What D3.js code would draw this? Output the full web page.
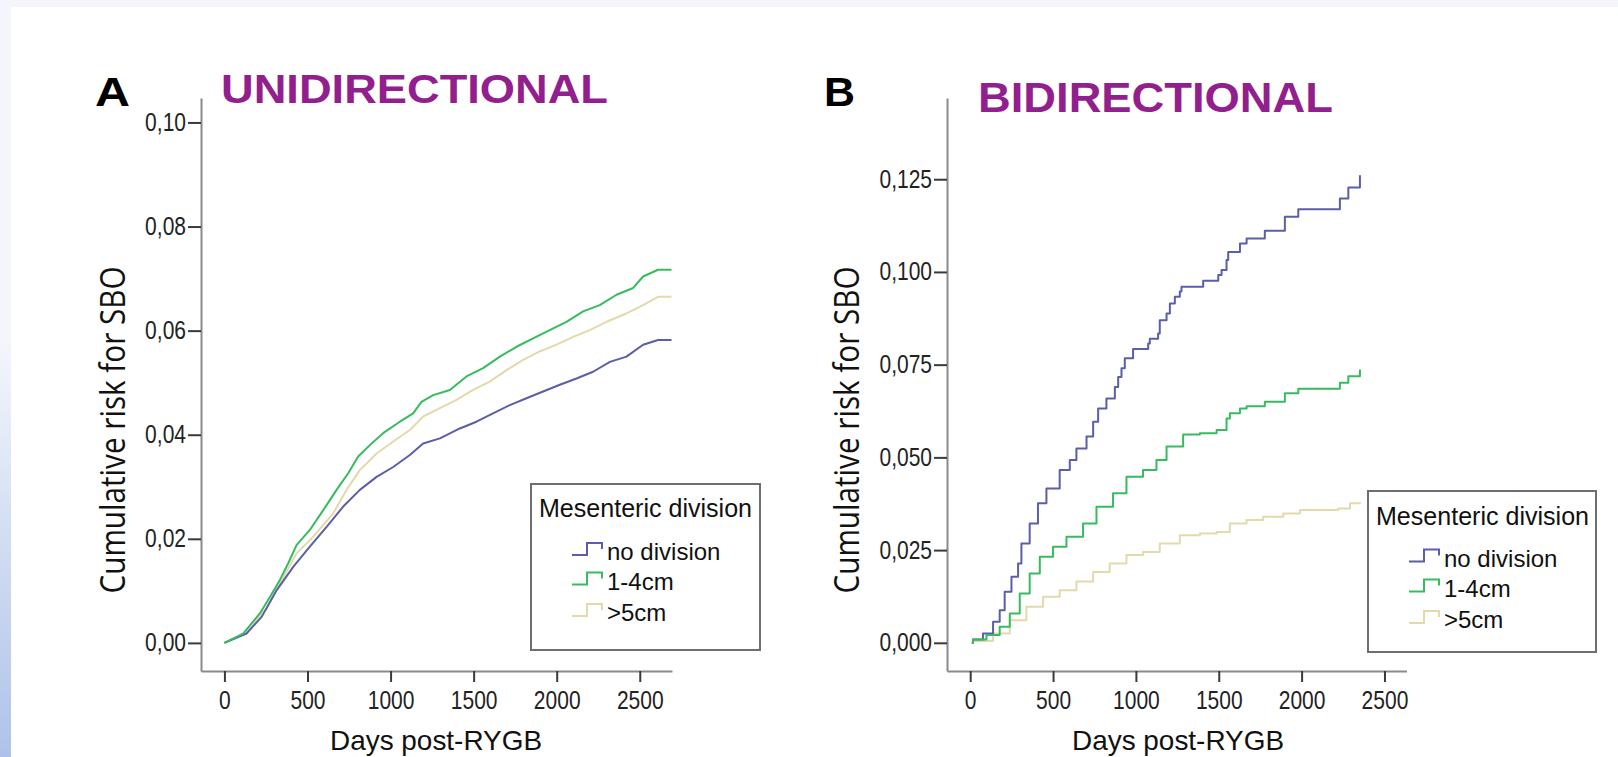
<!DOCTYPE html>
<html>
<head>
<meta charset="utf-8">
<script src="https://cdnjs.cloudflare.com/ajax/libs/d3/7.8.5/d3.min.js"></script>
<style>
  html, body { margin: 0; padding: 0; background: #f4f6fb; }
  svg { display: block; }
  text { font-family: "Liberation Sans", Arial, sans-serif; }
</style>
</head>
<body>
<script>
var W = 1618, H = 757;

// legend groups
var groups = ["no division", "1-4cm", ">5cm"];
var colors = ["#5b5ea8", "#36bc5e", "#e2daab"];

// tick values
var xTicks = [0, 500, 1000, 1500, 2000, 2500];
var yTicksA = [0, 0.02, 0.04, 0.06, 0.08, 0.10];
var yTicksB = [0, 0.025, 0.05, 0.075, 0.10, 0.125];

// A - unidirectional, [days, cumulative risk]
var uniNone = [[0,0],[133,0.0018],[224,0.005],[314,0.0101],[414,0.0146],[514,0.0185],[615,0.0223],
  [715,0.0262],[815,0.0294],[916,0.0319],[1016,0.0338],[1116,0.0361],[1196,0.0383],[1297,0.0393],
  [1417,0.0412],[1517,0.0425],[1617,0.0441],[1718,0.0457],[1818,0.047],[1918,0.0483],[2019,0.0496],
  [2119,0.0508],[2219,0.0521],[2320,0.054],[2420,0.055],[2520,0.0573],[2610,0.0582],[2691,0.0582]];
var uni1to4 = [[0,0],[113,0.0018],[214,0.0057],[274,0.0088],[334,0.0121],[384,0.0153],[434,0.0188],
  [514,0.0217],[595,0.0255],[675,0.0294],[745,0.0326],[805,0.0358],[875,0.038],[955,0.0403],
  [1056,0.0425],[1136,0.0441],[1186,0.0463],[1256,0.0476],[1357,0.0486],[1457,0.0512],[1557,0.0528],
  [1658,0.055],[1758,0.0569],[1858,0.0585],[1958,0.0601],[2059,0.0617],[2159,0.0637],[2259,0.0649],
  [2360,0.0669],[2460,0.0682],[2520,0.0704],[2610,0.0717],[2691,0.0717]];
var uniOver5 = [[0,0],[113,0.0018],[254,0.0066],[334,0.0114],[434,0.0172],[534,0.0204],[655,0.0249],
  [735,0.0294],[815,0.0332],[916,0.0364],[1016,0.0387],[1116,0.0409],[1196,0.0435],[1297,0.0451],
  [1397,0.0467],[1497,0.0486],[1597,0.0502],[1698,0.0524],[1798,0.0544],[1898,0.056],[1999,0.0573],
  [2099,0.0588],[2199,0.0601],[2300,0.0617],[2420,0.0633],[2520,0.0649],[2610,0.0665],[2691,0.0665]];

// B - bidirectional, [days, cumulative risk]
var biNone = [[10,0],[17,0.0009],[77,0.0025],[138,0.0057],[178,0.0088],[208,0.0138],[249,0.0178],
  [289,0.0214],[309,0.0268],[359,0.0322],[409,0.0376],[460,0.0416],[540,0.0466],[601,0.0493],
  [641,0.0524],[702,0.0556],[742,0.0596],[772,0.0632],[822,0.0659],[873,0.069],[893,0.0717],
  [913,0.074],[933,0.0767],[983,0.0792],[1074,0.0807],[1084,0.082],[1134,0.0834],[1144,0.087],
  [1185,0.0888],[1205,0.0915],[1235,0.0933],[1265,0.0947],[1275,0.096],[1406,0.0976],[1497,0.0992],
  [1517,0.1005],[1547,0.1032],[1557,0.1054],[1628,0.1077],[1668,0.109],[1778,0.1111],[1899,0.1149],
  [1980,0.1169],[2231,0.1198],[2282,0.1228],[2352,0.1261]];
var bi1to4 = [[10,0],[17,0.0009],[98,0.0021],[178,0.0043],[239,0.0079],[299,0.0133],[359,0.0187],
  [420,0.0232],[500,0.0259],[581,0.0286],[681,0.0322],[762,0.0367],[862,0.0403],[943,0.0448],
  [1043,0.0466],[1124,0.0493],[1185,0.0529],[1285,0.0562],[1386,0.0565],[1487,0.0574],[1547,0.0605],
  [1567,0.0619],[1628,0.0632],[1668,0.0638],[1778,0.065],[1899,0.0673],[1980,0.0685],[2231,0.0701],
  [2282,0.0719],[2352,0.0737]];
var biOver5 = [[10,0],[17,0.0005],[138,0.0025],[239,0.0061],[339,0.0097],[440,0.0124],[540,0.0142],
  [641,0.0165],[742,0.0191],[842,0.0214],[943,0.0237],[1043,0.0245],[1144,0.0268],[1265,0.029],
  [1386,0.0295],[1487,0.0299],[1567,0.0322],[1668,0.0331],[1768,0.034],[1889,0.0349],[1990,0.0358],
  [2221,0.0362],[2292,0.0376],[2352,0.038]];

var commaLocale = d3.formatLocale({decimal: ",", thousands: ".", grouping: [3], currency: ["", ""]});

var svg = d3.select("body").append("svg")
    .attr("width", W)
    .attr("height", H);

// page background: pale frame, blue fade on the left edge, white sheet
var grad = svg.append("defs").append("linearGradient")
    .attr("id", "edge").attr("x1", 0).attr("y1", 0).attr("x2", 0).attr("y2", 1);
grad.append("stop").attr("offset", "45%").attr("stop-color", "#f4f6fb");
grad.append("stop").attr("offset", "100%").attr("stop-color", "#aec2e9");
svg.append("rect").attr("width", W).attr("height", H).attr("fill", "#f4f6fb");
svg.append("rect").attr("width", 11).attr("height", H).attr("fill", "url(#edge)");
svg.append("rect").attr("x", 11).attr("y", 7).attr("width", W - 11).attr("height", H - 7).attr("fill", "#fff");

var panels = [
  { letter: "A", title: "UNIDIRECTIONAL", series: [uniOver5, uniNone, uni1to4], order: [2, 0, 1],
    left: 201, right: 672, top: 98, bottom: 671, xDomain: [-141, 2694], yDomain: [-0.0054, 0.1047],
    yTicks: yTicksA, fmt: commaLocale.format(".2f"), step: false,
    letterX: 95, letterY: 106, letterW: 35, titleX: 221, titleY: 103, titleSize: 40, titleW: 387,
    yLabelX: 125, xLabelX: 436, legX: 531, legY: 484, legW: 229, legH: 166, legTitleY: 517,
    legRows: [560, 589.5, 621] },
  { letter: "B", title: "BIDIRECTIONAL", series: [biOver5, biNone, bi1to4], order: [2, 0, 1],
    left: 947, right: 1406.5, top: 98, bottom: 671, xDomain: [-140, 2633], yDomain: [-0.0076, 0.1469],
    yTicks: yTicksB, fmt: commaLocale.format(".3f"), step: true,
    letterX: 824, letterY: 106, letterW: 31, titleX: 978, titleY: 112, titleSize: 42, titleW: 355,
    yLabelX: 859, xLabelX: 1178, legX: 1368, legY: 491, legW: 228, legH: 161, legTitleY: 525,
    legRows: [566.5, 596.5, 628] }
];

panels.forEach(function(p) {
  var g = svg.append("g");

  var x = d3.scaleLinear().domain(p.xDomain).range([p.left, p.right]);
  var y = d3.scaleLinear().domain(p.yDomain).range([p.bottom, p.top]);

  // panel letter and title
  g.append("text")
      .attr("x", p.letterX).attr("y", p.letterY)
      .attr("font-size", 40).attr("font-weight", "bold").attr("fill", "#000")
      .attr("textLength", p.letterW).attr("lengthAdjust", "spacingAndGlyphs")
      .text(p.letter);
  g.append("text")
      .attr("x", p.titleX).attr("y", p.titleY)
      .attr("font-size", p.titleSize).attr("font-weight", "bold").attr("fill", "#921f8e")
      .attr("textLength", p.titleW).attr("lengthAdjust", "spacingAndGlyphs")
      .text(p.title);

  // axes
  var yAxis = d3.axisLeft(y).tickValues(p.yTicks).tickFormat(p.fmt)
      .tickSize(13).tickPadding(2).tickSizeOuter(0);
  var xAxis = d3.axisBottom(x).tickValues(xTicks).tickFormat(d3.format("d"))
      .tickSize(11).tickPadding(9).tickSizeOuter(0);

  var ya = g.append("g").attr("transform", "translate(" + p.left + ",0)").call(yAxis);
  var xa = g.append("g").attr("transform", "translate(0," + p.bottom + ")").call(xAxis);

  [ya, xa].forEach(function(a) {
    a.select(".domain").attr("stroke", "#8a8a8a").attr("stroke-width", 2);
    a.selectAll(".tick line").attr("stroke", "#3a3a3a").attr("stroke-width", 2);
    a.selectAll(".tick text")
        .style("font-family", "'Liberation Sans', Arial, sans-serif")
        .attr("font-size", 25).attr("fill", "#222")
        .each(function() {
          var w = this.getComputedTextLength();
          d3.select(this).attr("textLength", w * 0.84).attr("lengthAdjust", "spacingAndGlyphs");
        });
  });

  // axis titles
  g.append("text")
      .attr("transform", "translate(" + p.yLabelX + "," + 430 + ") rotate(-90)")
      .attr("text-anchor", "middle")
      .style("font-family", "'Open Sans', sans-serif")
      .attr("font-size", 34).attr("fill", "#111")
      .attr("textLength", 327).attr("lengthAdjust", "spacingAndGlyphs")
      .text("Cumulative risk for SBO");
  g.append("text")
      .attr("x", p.xLabelX).attr("y", 750)
      .attr("text-anchor", "middle")
      .attr("font-size", 28).attr("fill", "#111")
      .attr("textLength", 212).attr("lengthAdjust", "spacingAndGlyphs")
      .text("Days post-RYGB");

  // curves
  var line = d3.line()
      .x(function(d) { return x(d[0]); })
      .y(function(d) { return y(d[1]); })
      .curve(p.step ? d3.curveStepAfter : d3.curveLinear);

  p.series.forEach(function(s, i) {
    g.append("path")
        .datum(s)
        .attr("fill", "none")
        .attr("stroke", colors[p.order[i]])
        .attr("stroke-width", 2)
        .attr("stroke-linejoin", "round")
        .attr("d", line);
  });

  // legend
  var leg = g.append("g");
  leg.append("rect")
      .attr("x", p.legX).attr("y", p.legY).attr("width", p.legW).attr("height", p.legH)
      .attr("fill", "#fff").attr("stroke", "#6e6e6e").attr("stroke-width", 2);
  leg.append("text")
      .attr("x", p.legX + 8).attr("y", p.legTitleY)
      .attr("font-size", 25).attr("fill", "#111")
      .attr("textLength", 213).attr("lengthAdjust", "spacingAndGlyphs")
      .text("Mesenteric division");

  groups.forEach(function(name, i) {
    var by = p.legRows[i], sx = p.legX + 41;
    leg.append("path")
        .attr("d", "M" + sx + "," + (by - 5) + "H" + (sx + 15) + "V" + (by - 17) +
                   "H" + (sx + 30) + "V" + (by - 11))
        .attr("fill", "none").attr("stroke", colors[i]).attr("stroke-width", 2);
    leg.append("text")
        .attr("x", sx + 35).attr("y", by)
        .attr("font-size", 24).attr("fill", "#111")
        .text(name);
  });
});
</script>
</body>
</html>
